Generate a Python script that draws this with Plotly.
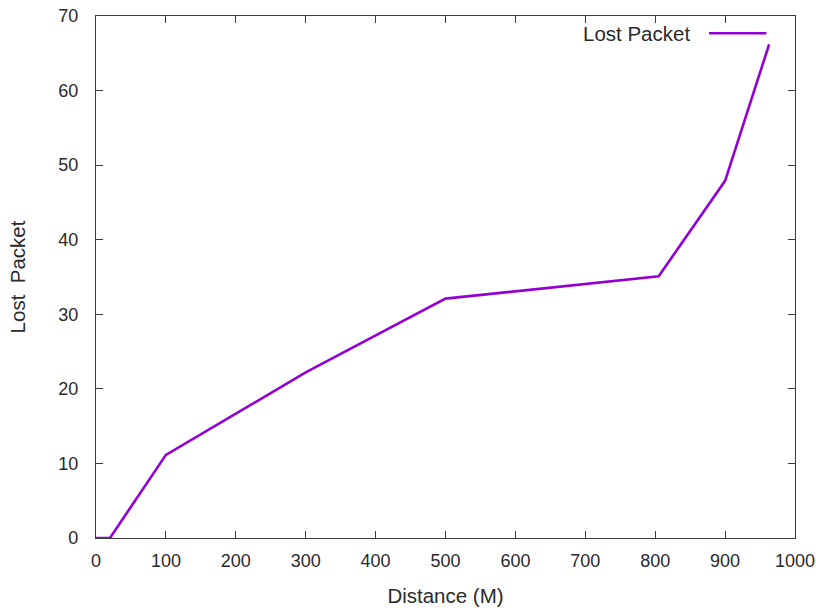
import plotly.graph_objects as go

# Lost packets measured at each distance
distance_m = [0, 20, 100, 300, 500, 805, 900, 963]
lost_packet = [0, 0, 11.15, 22.2, 32.1, 35.1, 47.9, 66.2]

x_ticks = [0, 100, 200, 300, 400, 500, 600, 700, 800, 900, 1000]
y_ticks = [0, 10, 20, 30, 40, 50, 60, 70]

LINE_COLOR = "#9400D3"
AXIS_COLOR = "#3c3c3c"
FAMILY = "Liberation Sans, Arial, sans-serif"
TICK_FONT = dict(family=FAMILY, size=18, color="#2a2a2a")
LABEL_FONT = dict(family=FAMILY, size=20.5, color="#2a2a2a")

fig = go.Figure()
fig.add_trace(go.Scatter(
    x=distance_m, y=lost_packet, mode="lines",
    line=dict(color=LINE_COLOR, width=2.6),
    name="Lost Packet", showlegend=False,
))

axis_common = dict(
    showline=True, linecolor=AXIS_COLOR, linewidth=1.3,
    mirror="ticks", ticks="inside", ticklen=7, tickwidth=1.2, tickcolor=AXIS_COLOR,
    showgrid=False, zeroline=False, tickfont=TICK_FONT, automargin=False,
)

fig.update_xaxes(range=[0, 1000], tickvals=x_ticks, ticklabelstandoff=6,
                 title=dict(text="Distance (M)", font=LABEL_FONT, standoff=18), **axis_common)
fig.update_yaxes(range=[0, 70], tickvals=y_ticks, ticklabelstandoff=13,
                 title=dict(text="Lost&nbsp; Packet", font=LABEL_FONT, standoff=27), **axis_common)

# Key: label text followed by a line sample, top-right inside the frame
fig.add_annotation(xref="paper", yref="paper", x=0.852, y=0.967, xanchor="right", yanchor="middle",
                   text="Lost Packet", showarrow=False, font=LABEL_FONT)
fig.add_shape(type="line", xref="paper", yref="paper", x0=0.877, x1=0.959, y0=0.967, y1=0.967,
              line=dict(color=LINE_COLOR, width=2.6))

fig.update_layout(
    width=816, height=611,
    margin=dict(l=96, r=21, t=16, b=73),
    paper_bgcolor="white", plot_bgcolor="white",
    font=TICK_FONT,
)

fig.write_html("out.html")
